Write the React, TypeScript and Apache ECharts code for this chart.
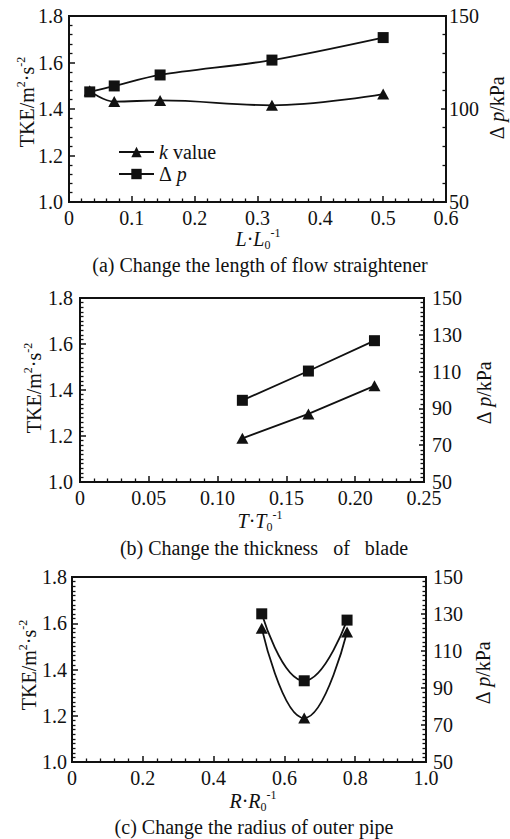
import React, { useEffect, useRef } from 'react';
import * as echarts from 'echarts';

const FONT = '"Liberation Serif", "Times New Roman", serif';
const INK = '#111';

// Panel (a): length of flow straightener
const aLength = [0.033, 0.072, 0.145, 0.323, 0.5];
const aTke = [1.478, 1.432, 1.437, 1.416, 1.464];
const aDp = [109.2, 112.4, 118.3, 126.3, 138.4];
// Panel (b): thickness of blade
const bThick = [0.118, 0.166, 0.214];
const bTke = [1.19, 1.296, 1.418];
const bDp = [94.4, 110.3, 126.8];
// Panel (c): radius of outer pipe
const cRadius = [0.536, 0.656, 0.777];
const cTke = [1.578, 1.19, 1.562];
const cDp = [130.1, 93.9, 126.7];

const captions = [
  '(a) Change the length of flow straightener',
  '(b) Change the thickness   of   blade',
  '(c) Change the radius of outer pipe',
];
const xNames = ['L', 'T', 'R'];
const legendNames = ['k value', 'Δ p'];

const zip = (xs: number[], ys: number[]) => xs.map((x, i) => [x, ys[i]]);

const panels = [
  { grid: { left: 69, top: 16, width: 377, height: 186 }, xMax: 0.6, xInt: 0.1, xDec: 1, leftMinor: 5, rInt: 50, rMinor: 5, smoothK: 0.4, smoothP: 0.3,
    lm: 6, rm: 3, x: aLength, k: aTke, p: aDp, names: legendNames,
    cap: { x: 260, y: 265 }, xname: { x: 258, y: 239 }, lname: { x: 27, y: 102 }, rname: { x: 497, y: 108 } },
  { grid: { left: 80, top: 298, width: 344, height: 184 }, xMax: 0.25, xInt: 0.05, xDec: 2, leftMinor: 10, rInt: 20, rMinor: 8, smoothK: 0, smoothP: 0,
    lm: 7, rm: 8, x: bThick, k: bTke, p: bDp, names: ['k value (b)', 'Δ p (b)'],
    cap: { x: 264, y: 548 }, xname: { x: 260, y: 521 }, lname: { x: 34, y: 388 }, rname: { x: 484, y: 393 } },
  { grid: { left: 72, top: 577, width: 354, height: 185 }, xMax: 1.0, xInt: 0.2, xDec: 1, leftMinor: 10, rInt: 20, rMinor: 8, smoothK: 0.5, smoothP: 0.5,
    lm: 5, rm: 7, x: cRadius, k: cTke, p: cDp, names: ['k value (c)', 'Δ p (c)'],
    cap: { x: 254, y: 827 }, xname: { x: 253, y: 801 }, lname: { x: 29, y: 665 }, rname: { x: 483, y: 673 } },
];

const labelStyle = { fontFamily: FONT, fontSize: 20, color: INK };
const lineStyleAxis = { color: INK, width: 2 };

export default function App() {
  const ref = useRef<HTMLDivElement>(null);
  useEffect(() => {
    if (!ref.current) return;
    const chart = echarts.init(ref.current, null, { renderer: 'svg' });

    const grids: any[] = [];
    const xAxes: any[] = [];
    const yAxes: any[] = [];
    const series: any[] = [];
    const graphics: any[] = [];

    panels.forEach((pn, i) => {
      grids.push({ ...pn.grid, show: true, borderColor: INK, borderWidth: 2, backgroundColor: 'transparent' });
      xAxes.push({
        type: 'value', gridIndex: i, min: 0, max: pn.xMax, interval: pn.xInt,
        axisLine: { lineStyle: lineStyleAxis, onZero: false },
        axisTick: { inside: true, length: 6, lineStyle: { color: INK, width: 1.5 } },
        minorTick: { show: true, splitNumber: 5, length: 3.5, lineStyle: { color: INK, width: 1.3 } },
        splitLine: { show: false },
        axisLabel: { ...labelStyle, margin: 6, showMinLabel: true, showMaxLabel: true,
          formatter: (v: number) => (v === 0 ? '0' : v.toFixed(pn.xDec)) },
      });
      yAxes.push({
        type: 'value', gridIndex: i, position: 'left', min: 1.0, max: 1.8, interval: 0.2,
        axisLine: { show: true, lineStyle: lineStyleAxis, onZero: false },
        axisTick: { inside: true, length: 6, lineStyle: { color: INK, width: 1.5 } },
        minorTick: { show: true, splitNumber: pn.leftMinor, length: 3.5, lineStyle: { color: INK, width: 1.3 } },
        splitLine: { show: false },
        axisLabel: { ...labelStyle, margin: pn.lm, showMinLabel: true, showMaxLabel: true, formatter: (v: number) => v.toFixed(1) },
      });
      yAxes.push({
        type: 'value', gridIndex: i, position: 'right', min: 50, max: 150, interval: pn.rInt,
        axisLine: { show: true, lineStyle: lineStyleAxis, onZero: false },
        axisTick: { inside: true, length: 5, lineStyle: { color: INK, width: 1.5 } },
        minorTick: { show: true, splitNumber: pn.rMinor, length: 3.5, lineStyle: { color: INK, width: 1.3 } },
        splitLine: { show: false },
        axisLabel: { ...labelStyle, margin: pn.rm, showMinLabel: true, showMaxLabel: true, formatter: (v: number) => String(Math.round(v)) },
      });
      series.push({
        name: pn.names[0], type: 'line', xAxisIndex: i, yAxisIndex: 2 * i, data: zip(pn.x, pn.k),
        smooth: pn.smoothK || false, symbol: 'triangle', symbolSize: [12, 11], z: 2,
        lineStyle: { color: INK, width: 1.8 }, itemStyle: { color: INK },
      });
      series.push({
        name: pn.names[1], type: 'line', xAxisIndex: i, yAxisIndex: 2 * i + 1, data: zip(pn.x, pn.p),
        smooth: pn.smoothP || false, symbol: 'rect', symbolSize: 11, z: 3,
        lineStyle: { color: INK, width: 1.8 }, itemStyle: { color: INK },
      });

      const rich = {
        sup: { fontFamily: FONT, fontSize: 12, verticalAlign: 'top', lineHeight: 12, fill: INK },
        sub: { fontFamily: FONT, fontSize: 12, verticalAlign: 'bottom', lineHeight: 12, fill: INK },
        it: { fontFamily: FONT, fontSize: 20, fontStyle: 'italic', lineHeight: 24, fill: INK },
        n: { fontFamily: FONT, fontSize: 20, lineHeight: 24, fill: INK },
      };
      graphics.push({
        type: 'text', x: pn.cap.x, y: pn.cap.y, silent: true,
        style: { text: captions[i], fontFamily: FONT, fontSize: 20, fill: INK, align: 'center', verticalAlign: 'middle' },
      });
      const L = xNames[i];
      graphics.push({
        type: 'text', x: pn.xname.x, y: pn.xname.y, silent: true,
        style: { text: `{it|${L}}{n|·}{it|${L}}{sub|0}{sup|-1}`, rich, fontFamily: FONT, fontSize: 20, fill: INK, align: 'center', verticalAlign: 'middle' },
      });
      graphics.push({
        type: 'text', x: pn.lname.x, y: pn.lname.y, rotation: Math.PI / 2, silent: true,
        style: { text: '{n|TKE/m}{sup|2}{n|·s}{sup|-2}', rich, fontFamily: FONT, fontSize: 20, fill: INK, align: 'center', verticalAlign: 'middle' },
      });
      graphics.push({
        type: 'text', x: pn.rname.x, y: pn.rname.y, rotation: Math.PI / 2, silent: true,
        style: { text: '{n|Δ }{it|p}{n|/kPa}', rich, fontFamily: FONT, fontSize: 20, fill: INK, align: 'center', verticalAlign: 'middle' },
      });
    });

    chart.setOption({
      animation: false,
      backgroundColor: '#fff',
      textStyle: { fontFamily: FONT },
      grid: grids,
      xAxis: xAxes,
      yAxis: yAxes,
      series,
      legend: {
        data: legendNames, left: 113, top: 137, orient: 'vertical',
        itemWidth: 35, itemHeight: 13, itemGap: 2,
        textStyle: { fontFamily: FONT, fontSize: 20, color: INK, rich: { i: { fontFamily: FONT, fontSize: 20, fontStyle: 'italic', color: INK } } },
        formatter: (n: string) => (n === 'k value' ? '{i|k} value' : 'Δ {i|p}'),
        selectedMode: false,
      },
      graphic: graphics,
    });
    return () => chart.dispose();
  }, []);
  return <div ref={ref} style={{ position: 'absolute', left: 0, top: 0, width: 510, height: 839 }} />;
}
